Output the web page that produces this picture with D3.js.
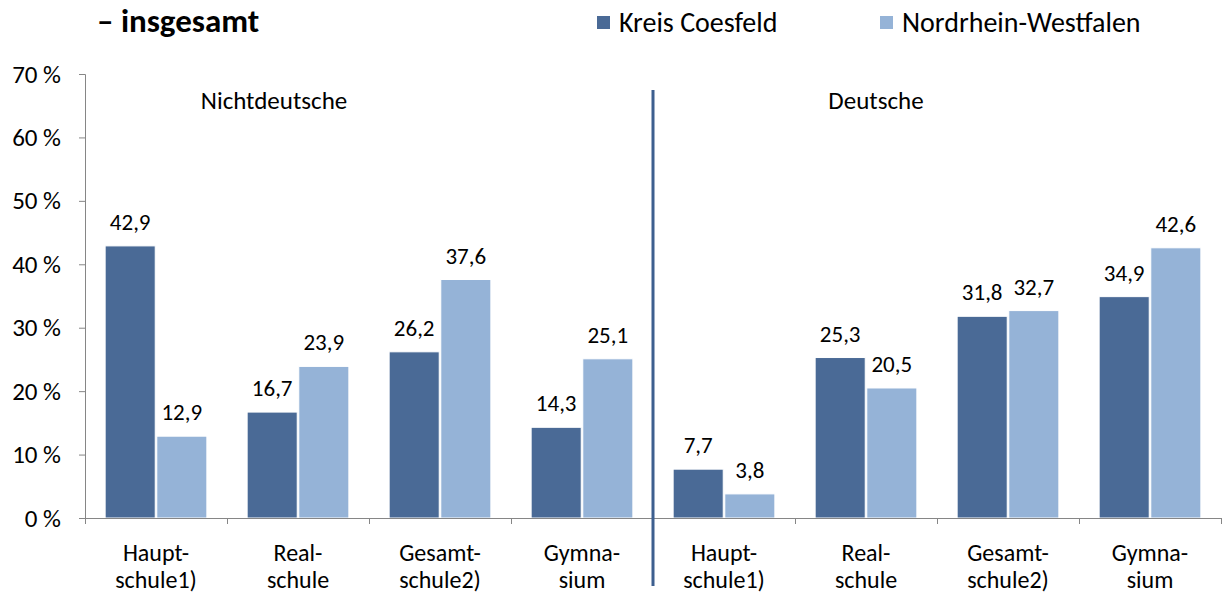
<!DOCTYPE html>
<meta charset="utf-8">
<body style="margin:0;background:#fff">
<script src="https://cdn.jsdelivr.net/npm/d3@7"></script>
<div id="chart"></div>
<script>
// data
var categories = ["Haupt-\nschule1)", "Real-\nschule", "Gesamt-\nschule2)", "Gymna-\nsium",
                  "Haupt-\nschule1)", "Real-\nschule", "Gesamt-\nschule2)", "Gymna-\nsium"];
var kreis = [42.9, 16.7, 26.2, 14.3, 7.7, 25.3, 31.8, 34.9];
var nrw   = [12.9, 23.9, 37.6, 25.1, 3.8, 20.5, 32.7, 42.6];
var seriesNames = ["Kreis Coesfeld", "Nordrhein-Westfalen"];
var groups = ["Nichtdeutsche", "Deutsche"];
var yTicks = [0, 10, 20, 30, 40, 50, 60, 70];

var font = "Calibri, Carlito, Lato, sans-serif";
var colors = ["#4a6a96", "#95b3d7"];
var axisColor = "#868686";

var W = 1222, H = 594;
var mLeft = 85, mRight = 1221, mTop = 74, mBottom = 518;

var svg = d3.select("#chart").append("svg")
    .attr("width", W).attr("height", H)
    .style("font-family", font);

var y = d3.scaleLinear().domain([0, 70]).range([mBottom, mTop]);
var x = d3.scaleBand().domain(d3.range(categories.length)).range([mLeft, mRight]).padding(0);
var xs = d3.scaleBand().domain([0, 1]).range([0, x.bandwidth()])
    .paddingInner(0.03).paddingOuter(0.39);

// title
svg.append("text")
    .attr("x", 97).attr("y", 32)
    .style("font-size", "33px").style("font-weight", "bold")
    .text("– insgesamt");

// legend
var legX = [597, 880];
seriesNames.forEach(function(n, i) {
  svg.append("rect").attr("x", legX[i]).attr("y", 16).attr("width", 13).attr("height", 13)
      .attr("fill", colors[i]);
  svg.append("text").attr("x", legX[i] + 22).attr("y", 32)
      .style("font-size", "28px").text(n);
});

// y axis
var yAxis = svg.append("g")
    .attr("transform", "translate(" + mLeft + ",0)")
    .call(d3.axisLeft(y).tickValues(yTicks).tickSize(6).tickPadding(18)
          .tickFormat(function(d) { return d + " %"; }));
yAxis.selectAll("path, line").attr("stroke", axisColor);
yAxis.selectAll("text").style("font-size", "25px").style("font-family", font).attr("fill", "#000");

// bars
var data = categories.map(function(c, i) { return [kreis[i], nrw[i]]; });
var g = svg.selectAll(".grp").data(data).enter().append("g")
    .attr("transform", function(d, i) { return "translate(" + x(i) + ",0)"; });

g.selectAll("rect").data(function(d) { return d; }).enter().append("rect")
    .attr("x", function(d, j) { return xs(j); })
    .attr("y", function(d) { return y(d); })
    .attr("width", xs.bandwidth())
    .attr("height", function(d) { return y(0) - y(d); })
    .attr("fill", function(d, j) { return colors[j]; })
    .attr("stroke", "#fff").attr("stroke-width", 1);

g.selectAll(".val").data(function(d) { return d; }).enter().append("text")
    .attr("x", function(d, j) { return xs(j) + xs.bandwidth() / 2; })
    .attr("y", function(d) { return y(d) - 16; })
    .attr("text-anchor", "middle")
    .style("font-size", "23px")
    .text(function(d) { return d.toFixed(1).replace(".", ","); });

// x axis
var xl = d3.scaleLinear().domain([0, categories.length]).range([mLeft, mRight]);
var xAxis = svg.append("g")
    .attr("transform", "translate(0," + mBottom + ")")
    .call(d3.axisBottom(xl).tickValues(d3.range(categories.length + 1)).tickSize(6).tickFormat(""));
xAxis.selectAll("path, line").attr("stroke", axisColor);

// category labels
categories.forEach(function(c, i) {
  var t = svg.append("text")
      .attr("x", x(i) + x.bandwidth() / 2).attr("y", 561)
      .attr("text-anchor", "middle").style("font-size", "24px");
  c.split("\n").forEach(function(line, k) {
    t.append("tspan").attr("x", x(i) + x.bandwidth() / 2).attr("dy", k ? 27 : 0).text(line);
  });
});

// divider and group labels
svg.append("line")
    .attr("x1", xl(4)).attr("x2", xl(4)).attr("y1", 90).attr("y2", 586)
    .attr("stroke", "#3d5f8f").attr("stroke-width", 3);

groups.forEach(function(gname, i) {
  svg.append("text")
      .attr("x", i ? 876 : 274).attr("y", 109)
      .attr("text-anchor", "middle").style("font-size", "25px")
      .text(gname);
});
</script>
</body>
